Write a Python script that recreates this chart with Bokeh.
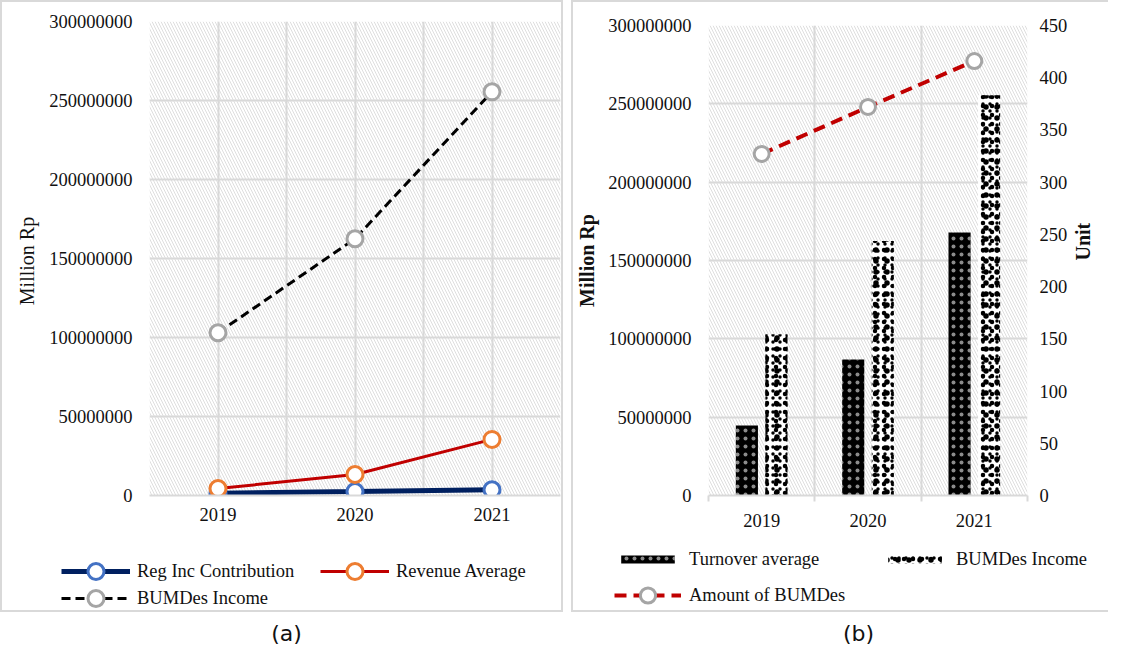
import math
from bokeh.plotting import figure
from bokeh.models import (Range1d, LinearAxis, FixedTicker, NumeralTickFormatter,
                          BoxAnnotation, Legend, LegendItem, Div, ColumnDataSource)
from bokeh.layouts import row, column
from bokeh.transform import dodge
from bokeh.embed import file_html
from bokeh.resources import INLINE

# ---------------- data ----------------
years = ["2019", "2020", "2021"]
xpos = [1, 2, 3]
reg_inc_contribution = [1.5e6, 2.5e6, 3.6e6]
revenue_average = [4.4e6, 13.3e6, 35.5e6]
bumdes_income = [103e6, 162.5e6, 255.5e6]
turnover_average = [44.7e6, 86.8e6, 167.9e6]
amount_of_bumdes = [327, 372, 416]
rp_ticks = [0, 50000000, 100000000, 150000000, 200000000, 250000000, 300000000]
unit_ticks = [0, 50, 100, 150, 200, 250, 300, 350, 400, 450]

SERIF = "Liberation Serif"
GRID = "#d9d9d9"
TXT = "#111111"
FS = "18.5px"
MAIN_H = 540
LEG_H = 68


def base_fig(width, mb_left, mb_right, mb_top, x_grid_ticks, y_max):
    p = figure(width=width, height=MAIN_H, x_range=Range1d(0.5, 3.5), y_range=Range1d(0, y_max),
               output_backend="svg", toolbar_location=None,
               min_border_left=mb_left, min_border_right=mb_right,
               min_border_top=mb_top, min_border_bottom=47,
               background_fill_color="white", border_fill_color="white",
               outline_line_color=None)
    bg = BoxAnnotation(fill_alpha=0, line_alpha=0, hatch_pattern="left_diagonal_line",
                       hatch_color="#dedede", hatch_scale=6, hatch_weight=1, level="image")
    p.add_layout(bg)
    p.xgrid.ticker = FixedTicker(ticks=x_grid_ticks)
    p.ygrid.ticker = FixedTicker(ticks=rp_ticks)
    for g in (p.xgrid, p.ygrid):
        g.grid_line_color = GRID
        g.grid_line_width = 2
    xa = p.xaxis[0]
    xa.ticker = FixedTicker(ticks=xpos)
    xa.major_label_overrides = dict(zip(xpos, years))
    xa.axis_line_color = GRID
    xa.axis_line_width = 2
    xa.major_tick_line_color = None
    xa.major_tick_out = 0
    xa.minor_tick_line_color = None
    xa.major_label_standoff = 12
    ya = p.yaxis[0]
    ya.ticker = FixedTicker(ticks=rp_ticks)
    ya.formatter = NumeralTickFormatter(format="0")
    ya.axis_line_color = None
    ya.major_tick_line_color = None
    ya.minor_tick_line_color = None
    ya.major_tick_out = 0
    ya.major_label_standoff = 17
    for ax in (xa, ya):
        ax.major_label_text_font = SERIF
        ax.major_label_text_font_size = FS
        ax.major_label_text_color = TXT
        ax.axis_label_text_font = SERIF
        ax.axis_label_text_font_size = "20px"
        ax.axis_label_text_color = TXT
        ax.axis_label_text_font_style = "normal"
    return p


def legend_fig(width):
    f = figure(width=width, height=LEG_H, x_range=Range1d(0, 1), y_range=Range1d(0, 1),
               x_axis_type=None, y_axis_type=None, output_backend="svg", toolbar_location=None,
               min_border=0, min_border_left=0, min_border_right=0, min_border_top=0,
               min_border_bottom=0, outline_line_color=None,
               background_fill_color="white", border_fill_color="white")
    f.grid.visible = False
    try:
        f.frame_align = False
    except Exception:
        pass
    return f


def make_legend(items, loc, glyph_w, glyph_h, spacing, label_w, standoff):
    return Legend(items=items, location=loc, orientation="horizontal",
                  label_text_font=SERIF, label_text_font_size=FS, label_text_color=TXT,
                  glyph_width=glyph_w, glyph_height=glyph_h, spacing=spacing,
                  label_width=label_w, label_height=21, label_standoff=standoff,
                  padding=0, margin=0, border_line_color=None, background_fill_alpha=0)


BORDER = "2px solid #d9d9d9"

# ---------------- panel (a) ----------------
pa = base_fig(559, 147, 1, 19, [0.5, 1, 1.5, 2, 2.5, 3, 3.5], 300000000)
pa.yaxis[0].axis_label = "Million  Rp"
pa.yaxis[0].axis_label_standoff = 8

src_a = ColumnDataSource(dict(x=xpos, reg=reg_inc_contribution, rev=revenue_average, inc=bumdes_income))
line_a = [dict(line_color="#002060", line_width=5),
          dict(line_color="#c00000", line_width=3),
          dict(line_color="black", line_width=3, line_dash="9 5")]
mark_a = [dict(size=16, fill_color="white", line_color="#4472c4", line_width=3),
          dict(size=16, fill_color="white", line_color="#ed7d31", line_width=3),
          dict(size=16, fill_color="white", line_color="#a5a5a5", line_width=3)]
for col, ls, ms in zip(["reg", "rev", "inc"], line_a, mark_a):
    pa.line("x", col, source=src_a, **ls)
    pa.scatter("x", col, source=src_a, **ms)

la = legend_fig(559)
labels_a = ["Reg Inc Contribution", "Revenue Average", "BUMDes Income"]
items_a = []
for lab, ls, ms in zip(labels_a, line_a, mark_a):
    # legend proxies, placed outside the legend strip's visible range
    rl = la.line(x=[9, 10], y=[9, 10], **ls)
    rm = la.scatter(x=[9], y=[9], **ms)
    items_a.append(LegendItem(label=lab, renderers=[rl, rm]))
la.add_layout(make_legend(items_a[:2], (59, 19), 69, 40, 6, 177, 7))
la.add_layout(make_legend(items_a[2:], (59, -8), 69, 40, 6, 177, 7))

box_a = column(pa, la, spacing=0, styles={"border": BORDER})

# ---------------- panel (b) ----------------
pb = base_fig(535, 125, 55, 23, [0.5, 1.5, 2.5, 3.5], 300000000)
xb = pb.xaxis[0]
xb.ticker = FixedTicker(ticks=xpos, minor_ticks=[0.5, 1.5, 2.5, 3.5])
xb.minor_tick_line_color = GRID
xb.minor_tick_line_width = 2
xb.minor_tick_out = 6
xb.minor_tick_in = 0
yb = pb.yaxis[0]
yb.axis_label = "Million Rp"
yb.axis_label_text_font_style = "bold"
yb.axis_label_standoff = 7

pb.extra_y_ranges = {"unit": Range1d(0, 450)}
ua = LinearAxis(y_range_name="unit", ticker=FixedTicker(ticks=unit_ticks))
ua.axis_line_color = None
ua.major_tick_line_color = None
ua.minor_tick_line_color = None
ua.major_tick_out = 0
ua.major_label_standoff = 12
ua.major_label_text_font = SERIF
ua.major_label_text_font_size = FS
ua.major_label_text_color = TXT
ua.axis_label = "Unit"
ua.axis_label_text_font = SERIF
ua.axis_label_text_font_size = "20px"
ua.axis_label_text_font_style = "bold"
ua.axis_label_text_color = TXT
ua.axis_label_standoff = 13
try:
    ua.axis_label_orientation = math.pi / 2
except Exception:
    pass
pb.add_layout(ua, "right")

bar_turn = dict(fill_color="black", line_color=None, hatch_pattern="dot",
                hatch_color="white", hatch_scale=8, hatch_alpha=0.55)
bar_inc1 = dict(fill_color="white", line_color=None, hatch_pattern="dot",
                hatch_color="black", hatch_scale=7)
bar_inc2 = dict(fill_alpha=0, line_color=None, hatch_pattern="dot",
                hatch_color="black", hatch_scale=9)
bar_inc3 = dict(fill_alpha=0, line_color=None, hatch_pattern="dot",
                hatch_color="black", hatch_scale=11)
line_amt = dict(line_color="#c00000", line_width=4, line_dash="12 7")
mark_amt = dict(size=15, fill_color="white", line_color="#a5a5a5", line_width=3)

src_b = ColumnDataSource(dict(x=xpos, turn=turnover_average, inc=bumdes_income, amt=amount_of_bumdes))
pb.vbar(x=dodge("x", -0.139), top="turn", width=0.208, source=src_b, **bar_turn)
for style in (bar_inc1, bar_inc2, bar_inc3):
    pb.vbar(x=dodge("x", 0.139), top="inc", width=0.208, source=src_b, **style)
pb.line("x", "amt", source=src_b, y_range_name="unit", **line_amt)
pb.scatter("x", "amt", source=src_b, y_range_name="unit", **mark_amt)

lb = legend_fig(535)
rb1 = lb.vbar(x=[9], top=[9], bottom=[8], width=0.2, **bar_turn)
rb_inc = [lb.vbar(x=[9], top=[9], bottom=[8], width=0.2, **s) for s in (bar_inc1, bar_inc2, bar_inc3)]
rb3 = lb.line(x=[9, 10], y=[9, 10], **line_amt)
rb4 = lb.scatter(x=[9], y=[9], **mark_amt)
lb.add_layout(make_legend([LegendItem(label="Turnover average", renderers=[rb1]),
                           LegendItem(label="BUMDes Income", renderers=rb_inc)],
                          (41, 40.5), 67, 10, 14, 178, 8))
lb.add_layout(make_legend([LegendItem(label="Amount of BUMDes", renderers=[rb3, rb4])],
                          (41, -4), 67, 38, 14, 178, 8))

box_b = column(pb, lb, spacing=0,
               styles={"border-left": BORDER, "border-top": BORDER, "border-bottom": BORDER})

# ---------------- captions ----------------
cap_style = {"text-align": "center", "font-family": "DejaVu Sans", "font-size": "22px",
             "line-height": "34px", "color": "#111111"}
cap_a = Div(text="(a)", width=563, height=28, styles=cap_style)
cap_b = Div(text="(b)", width=545, height=28, styles=cap_style)

layout = column(row(box_a, box_b, spacing=8), row(cap_a, cap_b, spacing=8), spacing=0)

open("out.html", "w").write(file_html(layout, INLINE))
